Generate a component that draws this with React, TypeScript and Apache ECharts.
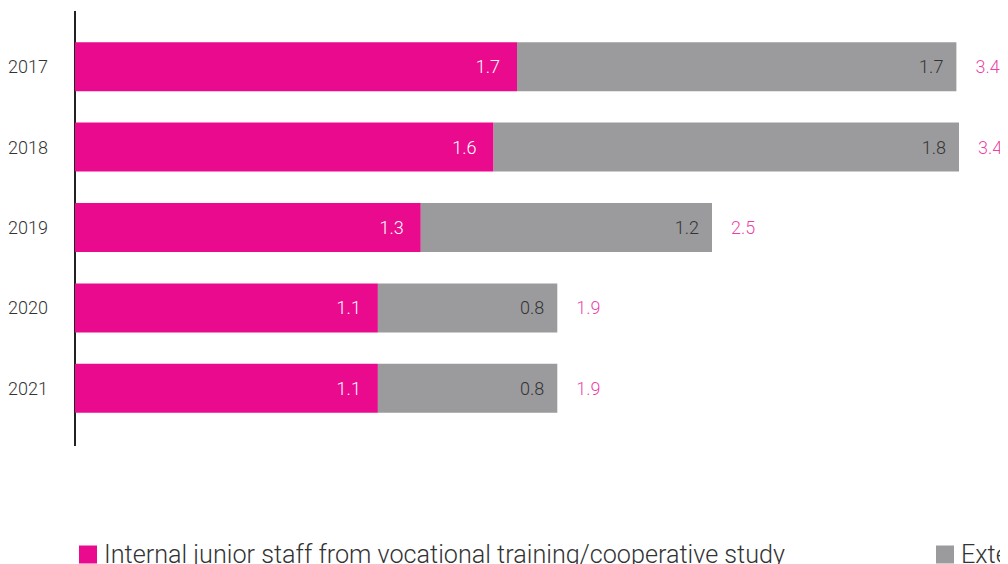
import React, { useEffect, useRef } from "react";
import * as echarts from "echarts";

const years = ["2017", "2018", "2019", "2020", "2021"];
const internalValues = [1.7, 1.61, 1.33, 1.165, 1.165];
const externalValues = [1.69, 1.79, 1.12, 0.69, 0.69];
const internalLabels = ["1.7", "1.6", "1.3", "1.1", "1.1"];
const externalLabels = ["1.7", "1.8", "1.2", "0.8", "0.8"];
const totalLabels = ["3.4", "3.4", "2.5", "1.9", "1.9"];
const seriesNames = [
  "Internal junior staff from vocational training/cooperative study",
  "External junior staff",
];

const MAGENTA = "#EA0A8E";
const GRAY = "#9B9B9E";
const TEXT = "#333333";
const FONT = "Roboto";

export default function App() {
  const ref = useRef<HTMLDivElement>(null);
  useEffect(() => {
    if (!ref.current) return;
    document.documentElement.style.overflow = "hidden";
    document.body.style.overflow = "hidden";
    const chart = echarts.init(ref.current, null, { renderer: "svg" });
    const totals = internalValues.map((v, i) => [v + externalValues[i], i]);
    chart.setOption({
      animation: false,
      textStyle: { fontFamily: FONT },
      grid: { left: 67, top: 18.5, width: 910, height: 402, outerBoundsMode: "none", containLabel: false },
      xAxis: {
        type: "value",
        min: 0,
        max: 3.5,
        show: false,
      },
      yAxis: {
        type: "category",
        data: years,
        inverse: true,
        axisLine: { show: false },
        axisTick: { show: false },
        axisLabel: {
          margin: 27,
          color: TEXT,
          fontSize: 18,
          fontWeight: 300,
          fontFamily: FONT,
        },
      },
      legend: {
        data: seriesNames,
        left: 71,
        top: 533,
        padding: 0,
        width: 1600,
        itemWidth: 18,
        itemHeight: 18,
        itemGap: 151,
        icon: "rect",
        textStyle: {
          fontSize: 25.2,
          fontWeight: 300,
          color: TEXT,
          fontFamily: FONT,
          lineHeight: 18,
          padding: [0, 0, 9, 2],
        },
      },
      graphic: [
        {
          type: "line",
          shape: { x1: 67, y1: 3, x2: 67, y2: 438 },
          style: { stroke: "#222222", lineWidth: 2 },
        },
      ],
      series: [
        {
          name: seriesNames[0],
          type: "bar",
          stack: "total",
          barWidth: 49,
          data: internalValues,
          itemStyle: { color: MAGENTA },
          label: {
            show: true,
            position: "insideRight",
            distance: 17,
            color: "#ffffff",
            fontSize: 18,
            fontWeight: 300,
            fontFamily: FONT,
            formatter: (p: any) => internalLabels[p.dataIndex],
          },
        },
        {
          name: seriesNames[1],
          type: "bar",
          stack: "total",
          barWidth: 49,
          data: externalValues,
          itemStyle: { color: GRAY },
          label: {
            show: true,
            position: "insideRight",
            distance: 13,
            color: TEXT,
            fontSize: 18,
            fontWeight: 300,
            fontFamily: FONT,
            formatter: (p: any) => externalLabels[p.dataIndex],
          },
        },
        {
          name: "Total",
          type: "scatter",
          symbolSize: 0,
          data: totals,
          silent: true,
          label: {
            show: true,
            position: "right",
            distance: 19,
            color: MAGENTA,
            fontSize: 18,
            fontWeight: 300,
            fontFamily: FONT,
            formatter: (p: any) => totalLabels[p.dataIndex],
          },
        },
      ],
    });
    return () => chart.dispose();
  }, []);
  return <div ref={ref} style={{ width: 1000, height: 556 }} />;
}
